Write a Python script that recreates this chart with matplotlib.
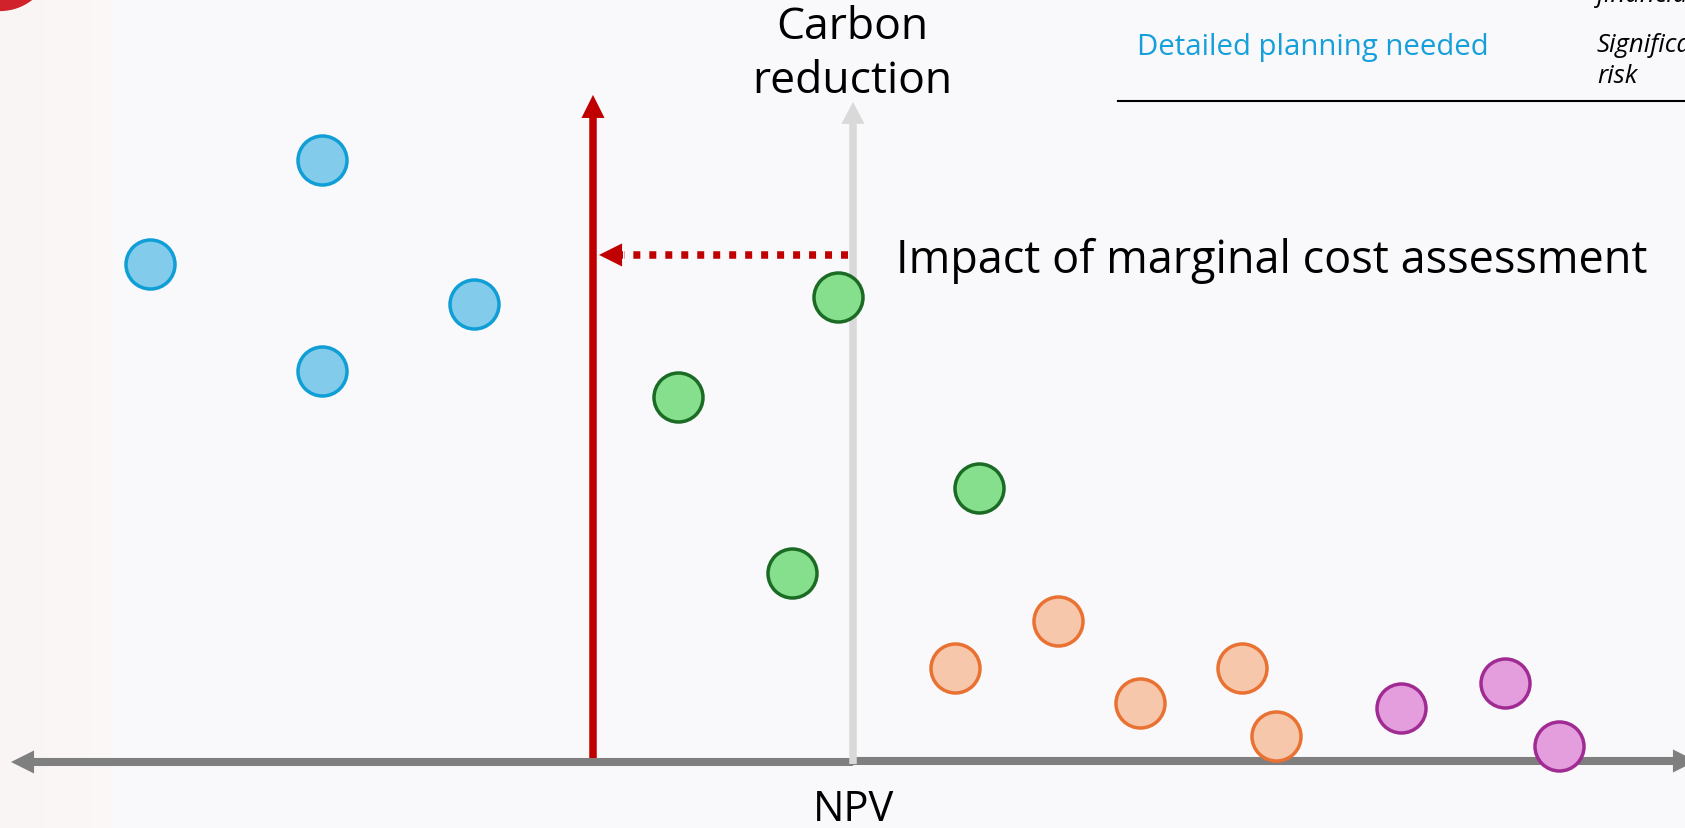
import matplotlib.pyplot as plt
import numpy as np
from matplotlib.patches import Circle

# project positions: NPV (x) vs carbon reduction (y), arbitrary units
blue_npv = [-5.31, -7.03, -3.79, -5.31]
blue_carbon = [6.02, 4.98, 4.58, 3.91]
green_npv = [-0.15, -1.75, 1.26, -0.61]
green_carbon = [4.65, 3.65, 2.74, 1.89]
orange_npv = [2.05, 1.02, 3.89, 2.87, 4.23]
orange_carbon = [1.41, 0.94, 0.94, 0.59, 0.26]
purple_npv = [5.48, 6.52, 7.06]
purple_carbon = [0.54, 0.79, 0.16]

marginal_npv = -2.60   # shifted axis after marginal cost assessment
shift_level = 5.07

plt.rcParams['font.family'] = ['Open Sans', 'DejaVu Sans']

fig = plt.figure(figsize=(16.85, 8.281), dpi=100)
fig.patch.set_facecolor('#f9f8fa')
ax = fig.add_axes([0, 0, 1, 1])
ax.set_facecolor('#f9f8fa')
ax.set_xlim(-8.53, 8.32)
ax.set_ylim(-0.66, 7.62)
ax.axis('off')

# faint pink band on the left edge
grad = np.linspace(1, 0, 100).reshape(1, -1)
ax.imshow(grad, extent=(-8.53, -7.40, -0.66, 7.62), cmap='RdPu', vmin=0, vmax=25,
          alpha=0.35, aspect='auto', zorder=0)

# red corner shape top-left
ax.add_patch(Circle((-8.53, 8.03), 0.515, color='#d0222b', zorder=1, clip_on=True))


def arrow(x0, y0, x1, y1, color, tail, head_w, head_l, z):
    ax.annotate('', xy=(x1, y1), xytext=(x0, y0),
                arrowprops=dict(arrowstyle=f'simple,head_length={head_l},head_width={head_w},tail_width={tail}',
                                mutation_scale=10, color=color, lw=0, shrinkA=0, shrinkB=0),
                zorder=z, annotation_clip=False)


# shifted (red) axis
arrow(marginal_npv, 0, marginal_npv, 6.67, '#c00000', 0.54, 1.66, 1.66, 2)
# NPV axis, double headed
arrow(0, 0, -8.42, 0, '#7f7f7f', 0.58, 1.66, 1.66, 3)
arrow(0, 0.01, 8.43, 0.01, '#7f7f7f', 0.58, 1.66, 1.66, 3)
# carbon reduction axis
arrow(0, -0.02, 0, 6.60, '#d9d9d9', 0.54, 1.66, 1.58, 4)

# dotted shift arrow
ax.plot([-0.05, -2.29], [shift_level, shift_level], color='#c00000', lw=5.4,
        dashes=(0.93, 1.2), dash_capstyle='butt', zorder=5)
arrow(-2.30, shift_level, -2.54, shift_level, '#c00000', 0.54, 1.66, 1.66, 5)

groups = [
    (blue_npv, blue_carbon, '#83cbeb', '#0f9ed5'),
    (green_npv, green_carbon, '#86df8c', '#1b6b25'),
    (orange_npv, orange_carbon, '#f7c7ac', '#e97132'),
    (purple_npv, purple_carbon, '#e49edd', '#a02b93'),
]
for xs, ys, fc, ec in groups:
    ax.scatter(xs, ys, s=1245, facecolor=fc, edgecolor=ec, linewidth=2.5, zorder=6)

# labels
ax.text(-0.01, 7.23, 'Carbon', ha='center', va='baseline', fontsize=32, color='black')
ax.text(-0.01, 6.69, 'reduction', ha='center', va='baseline', fontsize=32, color='black')
ax.text(0.01, -0.59, 'NPV', ha='center', va='baseline', fontsize=30, color='black')
ax.text(0.43, 4.89, 'Impact of marginal cost assessment', ha='left', va='baseline',
        fontsize=32.4, color='black')

# table fragment at top right
ax.text(2.84, 7.07, 'Detailed planning needed', ha='left', va='baseline',
        fontsize=21.2, color='#16a0db')
ax.text(7.44, 7.10, 'Significant', ha='left', va='baseline', fontsize=18.5,
        style='italic', color='black', clip_on=True)
ax.text(7.44, 6.79, 'risk', ha='left', va='baseline', fontsize=18.5,
        style='italic', color='black')
ax.text(7.44, 7.60, 'financial', ha='left', va='baseline', fontsize=18.5,
        style='italic', color='black', clip_on=True)
ax.plot([2.65, 8.4], [6.61, 6.61], color='black', lw=1.5, zorder=2)

fig.savefig('out.png', dpi=100, facecolor=fig.get_facecolor())
